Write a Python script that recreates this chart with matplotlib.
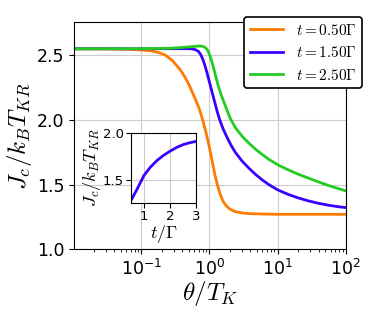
import numpy as np
import matplotlib
matplotlib.use("Agg")
import matplotlib.pyplot as plt

plt.rcParams["mathtext.fontset"] = "cm"
plt.rcParams["axes.unicode_minus"] = False

# log10(theta/T_K) and J_c/k_B T_KR for each t
logth_05 = [-2.0, -1.5, -1.2, -1.0, -0.85, -0.75, -0.65, -0.55, -0.45, -0.4, -0.35, -0.3,
            -0.25, -0.2, -0.15, -0.1, -0.05, 0.0, 0.04, 0.08, 0.12, 0.16, 0.2, 0.25,
            0.3, 0.35, 0.4, 0.5, 0.6, 0.8, 1.0, 1.5, 2.0]
jc_05 = [2.548, 2.547, 2.544, 2.539, 2.532, 2.52, 2.50, 2.46, 2.40, 2.364, 2.32, 2.27,
         2.21, 2.15, 2.085, 2.0, 1.9, 1.785, 1.68, 1.575, 1.49, 1.42, 1.37, 1.333,
         1.31, 1.297, 1.288, 1.279, 1.275, 1.272, 1.27, 1.27, 1.27]

logth_15 = [-2.0, -1.0, -0.5, -0.4, -0.3, -0.25, -0.2, -0.16, -0.13, -0.1, -0.07, -0.04,
            -0.01, 0.02, 0.05, 0.08, 0.11, 0.15, 0.2, 0.26, 0.32, 0.38, 0.48, 0.578,
            0.676, 0.774, 0.87, 1.0, 1.15, 1.3, 1.45, 1.6, 1.75, 1.9, 2.0]
jc_15 = [2.548, 2.548, 2.549, 2.549, 2.549, 2.547, 2.54, 2.527, 2.505, 2.47, 2.425, 2.37,
         2.31, 2.25, 2.19, 2.13, 2.07, 2.0, 1.93, 1.862, 1.80, 1.748, 1.68, 1.627,
         1.578, 1.536, 1.50, 1.459, 1.425, 1.397, 1.374, 1.355, 1.34, 1.328, 1.322]

logth_25 = [-2.0, -1.0, -0.6, -0.4, -0.25, -0.15, -0.12, -0.08, -0.05, -0.02, 0.01, 0.04,
            0.07, 0.1, 0.13, 0.17, 0.21, 0.26, 0.31, 0.38, 0.48, 0.578, 0.676, 0.774,
            0.87, 1.0, 1.15, 1.3, 1.45, 1.6, 1.75, 1.9, 2.0]
jc_25 = [2.548, 2.549, 2.552, 2.558, 2.565, 2.57, 2.569, 2.563, 2.552, 2.53, 2.49, 2.44,
         2.38, 2.32, 2.26, 2.195, 2.14, 2.07, 2.005, 1.94, 1.872, 1.82, 1.772, 1.732,
         1.695, 1.653, 1.615, 1.58, 1.55, 1.52, 1.492, 1.467, 1.451]

# inset: J_c vs t
t_inset = [0.5, 0.75, 1.0, 1.25, 1.5, 1.75, 2.0, 2.25, 2.5, 2.75, 3.0]
jc_inset = [1.28, 1.41, 1.55, 1.64, 1.71, 1.765, 1.81, 1.85, 1.88, 1.90, 1.915]

labels = [r"$t = 0.50\Gamma$", r"$t = 1.50\Gamma$", r"$t = 2.50\Gamma$"]
colors = ["#ff7a00", "#3a00ff", "#22cc22"]

fig = plt.figure(figsize=(3.74, 3.12), dpi=100)
ax = fig.add_axes([0.198, 0.201, 0.7265, 0.7285])

for lx, jc, lab, c in zip([logth_05, logth_15, logth_25], [jc_05, jc_15, jc_25], labels, colors):
    ax.plot(10 ** np.array(lx), jc, color=c, lw=2, label=lab)

ax.set_xscale("log")
ax.set_xlim(1.03e-2, 1e2)
ax.set_ylim(1.0, 2.755)
ax.set_yticks([1.0, 1.5, 2.0, 2.5])
ax.grid(True, color="#cccccc", lw=0.8)
ax.tick_params(labelsize=12.5)
ax.set_xlabel(r"$\theta/T_K$", fontsize=18, labelpad=0)
ax.set_ylabel(r"$J_c/k_BT_{KR}$", fontsize=18, labelpad=2)

leg = ax.legend(loc="upper right", bbox_to_anchor=(0.967, 0.945), bbox_transform=fig.transFigure,
                borderaxespad=0, fontsize=11, framealpha=1, edgecolor="k", fancybox=True,
                handlelength=2.2, borderpad=0.35)
leg.get_frame().set_linewidth(1.2)

ins = fig.add_axes([0.350, 0.350, 0.1746, 0.2224])
ins.plot(t_inset, jc_inset, color=colors[1], lw=2)
ins.set_xlim(0.5, 3)
ins.set_ylim(1.257, 2.0)
ins.set_xticks([1, 2, 3])
ins.set_yticks([1.5, 2.0])
ins.grid(True, color="#cccccc", lw=0.8)
ins.tick_params(labelsize=9.5, pad=1.5)
ins.set_xlabel(r"$t/\Gamma$", fontsize=13, labelpad=0)
ins.set_ylabel(r"$J_c/k_BT_{KR}$", fontsize=13, labelpad=0)

fig.savefig("out.png", dpi=100)
